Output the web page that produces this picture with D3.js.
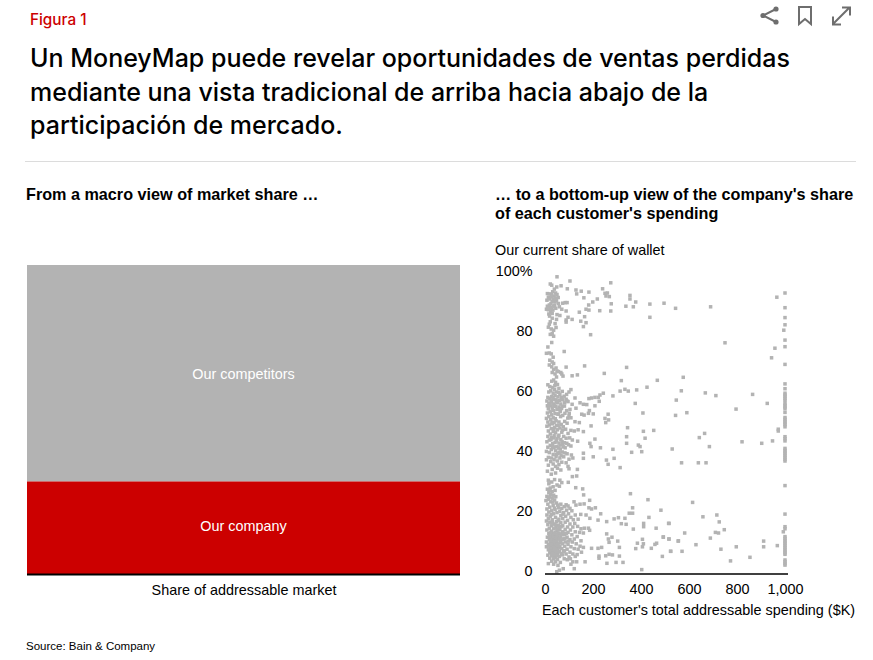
<!DOCTYPE html>
<html>
<head>
<meta charset="utf-8">
<script src="https://cdn.jsdelivr.net/npm/d3@7"></script>
<style>
  body { margin: 0; background: #fff; }
  text { font-family: "Liberation Sans", Arial, sans-serif; }
  .head { font-family: Inter, "Noto Sans", sans-serif; }
</style>
</head>
<body>
<div id="graph"></div>
<script>
//market share split, bottom to top
const share_names = ["Our company", "Our competitors"];
const share_values = [30, 70];
const share_colors = ["#cc0000", "#b3b3b3"];

const title_lines = ["Un MoneyMap puede revelar oportunidades de ventas perdidas",
                     "mediante una vista tradicional de arriba hacia abajo de la",
                     "participación de mercado."];
const y_ticks = [0, 20, 40, 60, 80, 100];
const x_ticks = [0, 200, 400, 600, 800, 1000];

//customers as [spending $K, share of wallet %]
const customers_top = [[50,98.4],[104,97],[274,96.4],[22,96],[28,95.6],[67,95.4],[49,95],[93,94.4],[240,94.4],[129,94],[151,93.6],[183,93.3],[132,92.7],[250,92.9],[260,93],[254,92],[268,91.8],[354,92.2],[354,91],[162,91.4],[218,91],[199,90],[378,90],[276,89.4],[437,89.3],[496,89.6],[182,89],[337,88.6],[368,88.4],[544,87.9],[171,87.6],[183,87.3],[274,87],[228,87.1],[143,86.6],[437,84.9],[165,85.1],[96,84.9],[88,84],[113,84.2],[88,83.3],[149,83.6],[171,83.1],[160,81.8],[190,79.1],[690,88.4],[966,91.6],[750,76.4],[958,74.6],[944,71.4],
  [10,92.8],[14,91.5],[8,90.6],[20,91],[26,92.6],[32,93.4],[38,92],[44,93],[50,92.5],[55,91.5],[48,90.6],[42,90],[56,89.5],[60,88.4],[30,90.2],[18,89],[10,88.6],[6,87.6],[14,87.4],[22,88.2],[28,87.6],[34,88.6],[40,88.9],[24,86.6],[16,86],[30,86.2],[74,89.6],[84,89.8],[92,89.8],[70,87.6],[88,87],[50,85.8],[62,85.5],[48,84.2],[30,84.6],[22,83.4],[18,82.6],[42,82.8],[14,81.6],[26,81],[36,80.6],[46,81.5],[30,79.5],[36,78.6],[22,79.2],[28,76.5],[12,75],[6,72.9],[18,73],[26,72.7],[34,71.6],[20,70.6],[30,70],[36,69.5],[80,73.5]];

const customers_mid = [[18,69],[28,68.4],[36,67.5],[46,68],[50,67],[66,66.5],[88,68.3],[70,66],[75,65.3],[30,66.5],[42,66],[48,65],[56,66.8],[165,68.7],[247,66.2],[340,68.2],[135,65.7],[113,65.4],[318,63.8],[468,63.9],[382,60.7],[425,61.6],[313,60.3],[333,60.9],[347,60.3],[283,58.7],[243,59.6],[229,59],[222,58.2],[208,58.2],[194,58],[183,57.8],[125,58],[226,56.9],[208,55.4],[160,55.9],[174,55.8],[146,56.4],[376,56.2],[129,54.6],[185,53.8],[181,52.9],[201,52.7],[104,54.2],[101,52.9],[153,52.6],[163,52.3],[408,53],[263,52.6],[250,51.2],[265,50.7],[253,49.8],[125,50.1],[143,49.8],[108,51.4],[100,52],[74,52.2],[65,51.8],[576,64.9],[568,60.4],[668,59.7],[712,58.8],[865,59.2],[547,57.3],[926,56.2],[796,54.3],[591,53.1],[544,52.2],
  [36,64],[44,63.2],[28,63.6],[52,62.5],[12,62.4],[20,61.8],[32,61.5],[40,60.8],[58,61.2],[24,60.4],[48,60],[34,59.6],[16,60],[62,59.2],[72,60.2],[108,60.8],[100,60],[90,59.2],[42,58.8],[28,58.5],[54,58.4],[12,58.2],[68,58.2],[80,58.6],[36,57.6],[20,57.8],[46,57.4],[60,57.2],[8,57],[74,57.4],[88,57.6],[28,56.6],[52,56.4],[16,56.2],[38,56],[66,56],[82,56.4],[96,56.8],[10,55.4],[24,55.4],[44,55.2],[58,55],[72,55.2],[30,54.6],[14,54.4],[50,54.2],[36,53.8],[22,53.4],[64,53.6],[90,53.8],[10,53],[42,52.8],[28,52.4],[54,52.6],[16,51.8],[34,51.4],[6,51.2],[24,50.8],[46,50.4],[12,50],[38,49.8],[58,50],[82,50.2],[30,49.4],[18,49],[48,48.8],[68,49.2],[92,49.6],[8,48.6],[40,48.2],[62,48],[76,48.4],[26,47.8],[52,47.4],[14,47],[86,47.6],[34,46.8],[44,46.4],[70,46.6],[22,46],[58,45.6],[96,46.2],[108,47.2],[122,47],[138,47.4],[160,46.8],[12,45.2],[38,45.4],[78,45.2],[28,44.8],[50,44.4],[66,44.2],[18,44],[88,44.6],[114,44],[136,43.6],[8,43.4],[42,43.2],[58,43],[32,42.8],[74,42.6],[22,42.2],[98,42.4],[108,42],[50,41.8],[12,41.6],[36,41.4],[84,41.4],[64,41],[26,40.8],[44,40.4],[6,40.2],[72,40],[18,39.8],[54,39.6],[34,39.2],[92,39.4],[110,39],[14,38.2],[46,38.4],[28,38],[62,38],[78,38.4],[38,37.4],[100,37.6],[116,38],[52,37],[6,37.4],[24,36.8],[70,36.6],[88,36.4],[34,36],[58,35.8],[44,35.2],[14,35.6],[96,35.2],[100,34.4],[52,34.6],[30,34.2],[10,33.6],[66,34],[44,33],[26,32.6],[14,30.6]];

const customers_low = [[192,48.7],[344,48.1],[410,46.9],[453,47.2],[340,45.1],[417,44.6],[208,44.3],[187,42.9],[192,41.8],[340,42.9],[389,42.3],[396,41.8],[231,41.4],[283,40.9],[361,39.9],[403,40.1],[160,39.6],[160,37.9],[201,38.4],[256,37.3],[288,37.9],[263,35.9],[313,34.8],[135,34.2],[132,32],[114,31.8],[97,29.9],[128,28.1],[157,27.7],[161,25.7],[356,26.1],[429,24.1],[186,23.9],[121,23.4],[129,22.3],[146,22.6],[163,22.7],[183,21.4],[194,21],[210,21.4],[365,21.4],[483,20.6],[351,19.6],[365,19.6],[232,19.4],[149,19.2],[171,19],[187,17.9],[221,17.3],[257,16.8],[288,17.7],[306,18.1],[333,17.9],[433,18.2],[318,16.1],[338,15.9],[411,16.2],[411,15.1],[517,16.2],[368,14.3],[463,14.6],[181,14.6],[186,13.9],[257,12.7],[279,11.6],[264,11],[267,9.9],[303,10.3],[493,11.7],[517,11],[556,10.4],[406,10.9],[385,9.6],[410,9.4],[458,9.2],[465,9.6],[310,8.2],[406,8.4],[378,7.8],[443,7.9],[194,7.9],[221,7.9],[236,8.2],[524,6.9],[225,5.3],[225,4.6],[253,5.4],[267,5.9],[281,5.7],[310,5.3],[489,5.2],[258,2.9],[296,3.2],[325,3.2],[403,.8],[167,3.4],[132,3.4],[122,1.1],[76,1.1],[60,.6],[49,.1],
  [665,46.2],[643,44.8],[685,41.8],[530,41],[821,43.4],[903,42.9],[948,43.7],[972,47],[569,36.4],[639,36.4],[671,36.4],[615,23.2],[658,18.4],[716,19],[726,16.7],[515,16.2],[747,14.1],[582,13],[710,13.2],[723,13],[993,13.4],[493,11.6],[516,11],[555,10.3],[689,11.3],[629,9.1],[911,10.3],[911,8.4],[797,8.4],[968,8.8],[733,7.6],[523,6.9],[571,6.9],[854,4.9],[773,3.7],
  [40,30.8],[62,30.6],[70,29.8],[16,29.4],[28,30],[50,29],[34,28.4],[60,28.6],[22,28],[10,27.6],[42,27.2],[30,26.8],[16,26.4],[24,25.8],[36,25.6],[8,25.2],[20,25],[30,24.6],[14,24.2],[40,24],[4,23.8],[24,23.4],[48,23],[66,22.6],[88,22.4],[96,22],[12,22.6],[34,22.2],[80,21.8],[20,21.6],[56,21.4],[70,21.2],[104,21.2],[8,21],[42,20.8],[90,20.6],[28,20.4],[62,20.2],[112,20.4],[16,20],[50,19.8],[78,19.8],[36,19.4],[98,19.4],[126,19],[8,19],[66,18.8],[22,18.6],[86,18.6],[44,18.2],[108,18.2],[14,17.8],[58,17.6],[74,17.8],[30,17.4],[94,17.2],[118,17.4],[138,17.6],[6,17],[48,16.8],[20,16.6],[66,16.4],[84,16.6],[38,16],[104,16],[124,16.2],[12,15.8],[56,15.6],[28,15.4],[74,15.4],[94,15],[46,14.8],[116,15],[136,15.2],[18,14.6],[36,14.4],[62,14.2],[84,14.2],[106,14],[150,14.4],[164,14.6],[8,14],[50,13.8],[26,13.6],[72,13.4],[42,13.2],[96,13.2],[126,13.4],[144,13.2],[160,13],[16,12.8],[58,12.8],[34,12.4],[82,12.4],[112,12.4],[48,12],[66,11.8],[24,11.8],[10,11.6],[92,11.6],[134,11.8],[38,11.2],[56,11],[76,11],[104,10.8],[122,11],[18,10.8],[30,10.4],[46,10.2],[64,10.2],[150,10.4],[86,10],[114,10],[6,10],[22,9.8],[38,9.6],[54,9.4],[72,9.4],[96,9.2],[130,9.4],[14,9.2],[30,8.8],[44,8.6],[62,8.6],[82,8.6],[108,8.4],[146,8.6],[160,8.2],[6,8.4],[22,8.2],[36,8],[52,7.8],[70,7.8],[92,7.6],[122,7.8],[138,7.6],[14,7.4],[28,7.2],[44,7],[60,7],[78,6.8],[104,6.6],[152,6.6],[20,6.4],[36,6.2],[52,6],[68,6.2],[88,6],[116,6],[134,5.8],[12,5.6],[28,5.4],[44,5.2],[60,5.2],[100,5],[126,5.2],[20,4.6],[36,4.4],[52,4.2],[80,4.4],[106,4.4],[28,3.6],[44,3.4],[64,3.2],[116,3.4],[14,2.8],[36,2.6],[54,2.2],[108,2.6],[40,4.8],[48,6.6],[32,7.6],[40,9],[50,10.6],[28,11],[42,12.6],[56,13],[34,9.4],[46,8],[24,10.2],[58,8.2],[38,6.8],[52,11.8],[30,12.2],[64,9.8],[44,11.4],[20,8.6],[26,6.8],[68,12.6]];

//second pass over the densest clumps
const customers_dense = [[33,11.7],[41,10.1],[47,9.3],[27,9.1],[35,8.3],[53,8.9],[43,7.4],[31,6.3],[57,6.7],[49,5.5],[39,5.7],[25,8],[61,11.3],[37,12.9],[51,14.3],[23,13],[67,15.1],[43,15.7],[31,16.5],[55,17.1],[77,13],[89,12.9],[99,10.3],[81,7.1],[73,5.7],[93,4.1],[19,11.9],[71,10.7],[59,14.9],[83,11.1],[27,19.1],[39,21.3],[53,22.3],[75,19.3],[45,25.1],[19,27.1],[33,23.3],
  [25,44.1],[37,44.7],[47,43.7],[55,45.1],[63,42.3],[71,43.5],[81,43.1],[31,41.9],[41,41.7],[57,41.3],[77,41.7],[91,42.9],[103,44.7],[49,39.1],[59,39.9],[67,38.9],[83,39.7],[37,47.3],[29,49.9],[55,48.9],[73,47.3],[43,51.1],[57,52.7],[69,54.5],[81,55.3],[37,55.5],[47,56.9],[61,54.1],[83,52.9],[95,51.3],[25,57.1],[33,58.1],[57,59.9],[41,62.1],[113,55.9],[91,57.1],
  [27,91.7],[35,90.9],[43,91.3],[17,92.7],[39,94.3],[25,89.5],[33,87.3],[45,87.9],[19,85.3]];

//customers that hit the $1,000K cap, right edge of the plot
const customers_cap = [[1000,93],[1000,88.1],[1000,84.8],[1000,82.4],[995,80.6],[1000,77.3],[1000,75.1],[1000,69.2],[1000,62.7],[1000,61.1],[1000,59.6],[1000,59],[1000,58.4],[1000,57.8],[1000,57.2],[1000,56.2],[1000,55.6],[1000,55],[1000,54.4],[1000,53.2],[1000,51.5],[1000,50.9],[1000,50.3],[1000,49.7],[1000,49.1],[1000,48.4],[972,47.6],[1000,45.1],[1000,44.4],[1000,43.7],[1000,41.2],[1000,40.6],[1000,40],[1000,39.4],[1000,38.8],[1000,38.2],[1000,37.6],[1000,37],[1000,28.8],[1000,19.3],[1000,15.1],[1000,14.4],[1000,11.8],[1000,11.2],[1000,10.6],[1000,10],[1000,9.4],[1000,8.8],[1000,8.2],[1000,7.6],[1000,7],[1000,6.4],[1000,5.9],[1000,4],[1000,3.4],[1000,2.8],[1000,2.3]];

const customers = customers_top.concat(customers_mid, customers_low, customers_dense, customers_cap);

let svg = d3.select("#graph").append("svg")
            .attr("width", 873)
            .attr("height", 660)
            .style("display", "block");

////////////////// header ////////////////////////////////////

svg.append("text").attr("class", "head")
   .attr("x", 30).attr("y", 25)
   .style("font-size", "15.3px").style("font-weight", 500).style("fill", "#cc0000")
   .text("Figura 1");

svg.selectAll(".title").data(title_lines).enter().append("text")
   .attr("class", "head title")
   .attr("x", 30)
   .attr("y", function(d, i) { return 67 + i * 33.7 })
   .style("font-size", "25px").style("font-weight", 500).style("fill", "#000")
   .text(function(d) { return d });

svg.append("line")
   .attr("x1", 25).attr("x2", 856).attr("y1", 161.5).attr("y2", 161.5)
   .style("stroke", "#dcdcdc");

//share, bookmark and expand icons
let icons = svg.append("g").style("stroke", "#6e6e6e").style("fill", "none").style("stroke-width", 2);
icons.append("path").attr("d", "M776 9L763 15.5L776 22");
icons.selectAll("circle").data([[776,9],[763,15.5],[776,22]]).enter().append("circle")
     .attr("cx", function(d) { return d[0] }).attr("cy", function(d) { return d[1] }).attr("r", 2.6)
     .style("fill", "#6e6e6e").style("stroke", "none");
icons.append("path").attr("d", "M799 7H811V24L805 19L799 24Z");
icons.append("path").attr("d", "M833 24L849 8M842 7.5H850V15.5M833 16.5V24.5H841");

////////////////// left panel ////////////////////////////////////

svg.append("text").attr("x", 26).attr("y", 200)
   .style("font-size", "16.2px").style("font-weight", "bold")
   .text("From a macro view of market share …");

let x_share = d3.scaleLinear().domain([0, 1]).range([27, 460]);
let y_share = d3.scaleLinear().domain([0, d3.sum(share_values)]).range([574, 265]);
let stacked = d3.stack().keys(share_names)([Object.fromEntries(share_names.map(function(n, i) { return [n, share_values[i]] }))]);

svg.selectAll(".share").data(stacked).enter().append("rect")
   .attr("class", "share")
   .attr("x", x_share(0))
   .attr("width", x_share(1) - x_share(0))
   .attr("y", function(d) { return y_share(d[0][1]) })
   .attr("height", function(d) { return y_share(d[0][0]) - y_share(d[0][1]) })
   .attr("fill", function(d, i) { return share_colors[i] });

//labels sit a touch off centre in the original
svg.selectAll(".share-label").data(stacked).enter().append("text")
   .attr("x", (x_share(0) + x_share(1)) / 2)
   .attr("y", function(d, i) { return y_share((d[0][0] + d[0][1]) / 2) + (i === 0 ? 3 : 6) })
   .style("text-anchor", "middle").style("font-size", "14.4px").style("fill", "#fff")
   .text(function(d) { return d.key });

svg.append("line")
   .attr("x1", x_share(0)).attr("x2", x_share(1)).attr("y1", 574.5).attr("y2", 574.5)
   .style("stroke", "#000").style("stroke-width", 2);

svg.append("text").attr("x", 244).attr("y", 595)
   .style("text-anchor", "middle").style("font-size", "14.4px")
   .text("Share of addressable market");

////////////////// right panel ////////////////////////////////////

svg.selectAll(".sub").data(["… to a bottom-up view of the company's share", "of each customer's spending"])
   .enter().append("text")
   .attr("x", 495)
   .attr("y", function(d, i) { return 200 + i * 19 })
   .style("font-size", "16.2px").style("font-weight", "bold")
   .text(function(d) { return d });

svg.append("text").attr("x", 495).attr("y", 255)
   .style("font-size", "14.4px")
   .text("Our current share of wallet");

let x_spend = d3.scaleLinear().domain([0, 1000]).range([545, 785]);
let y_wallet = d3.scaleLinear().domain([0, 100]).range([572, 272]);

svg.selectAll(".customer").data(customers).enter().append("rect")
   .attr("class", "customer")
   .attr("x", function(d) { return x_spend(d[0]) - 1.75 })
   .attr("y", function(d) { return y_wallet(d[1]) - 1.75 })
   .attr("width", 3.5)
   .attr("height", 3.5)
   .attr("fill", "#b3b3b3");

let y_axis = svg.append("g")
   .attr("transform", "translate(532.5,-1)")
   .call(d3.axisLeft(y_wallet).tickValues(y_ticks).tickSize(0).tickPadding(0)
           .tickFormat(function(d) { return d === 100 ? "100%" : d }));
y_axis.select(".domain").remove();
y_axis.selectAll("text").style("font-size", "14.4px").style("fill", "#000")
      .style("font-family", '"Liberation Sans", Arial, sans-serif');

let x_axis = svg.append("g")
   .attr("transform", "translate(0,575)")
   .call(d3.axisBottom(x_spend).tickValues(x_ticks).tickSize(0).tickPadding(9)
           .tickFormat(d3.format(",")));
x_axis.select(".domain").remove();
x_axis.selectAll("text").style("font-size", "14.4px").style("fill", "#000")
      .style("font-family", '"Liberation Sans", Arial, sans-serif');

svg.append("line")
   .attr("x1", 545).attr("x2", 788).attr("y1", 574).attr("y2", 574)
   .style("stroke", "#000").style("stroke-width", 1.5);

svg.append("text").attr("x", 698.5).attr("y", 615)
   .style("text-anchor", "middle").style("font-size", "14.4px")
   .text("Each customer's total addressable spending ($K)");

svg.append("text").attr("x", 26).attr("y", 650)
   .style("font-size", "11.5px")
   .text("Source: Bain & Company");
</script>
</body>
</html>
